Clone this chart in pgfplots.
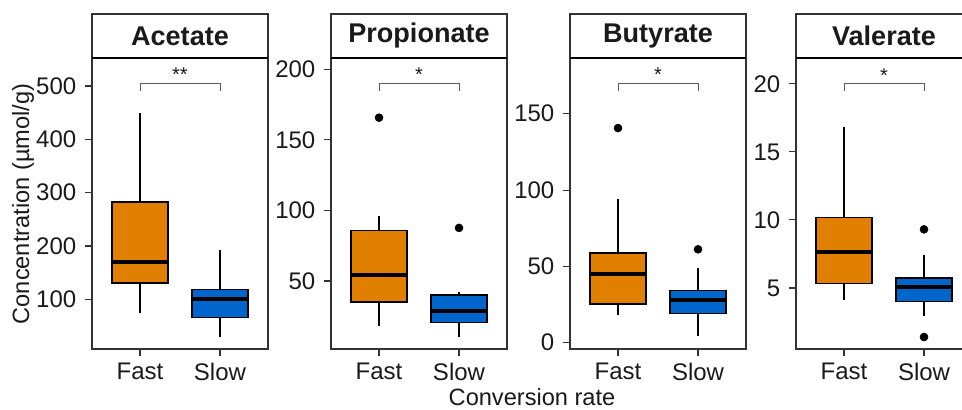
\documentclass[border=0pt]{standalone}
\usepackage{fontspec}
\setmainfont{Liberation Sans}
\usepackage{pgfplots}
\pgfplotsset{compat=1.18}
\definecolor{fastc}{HTML}{E07F00}
\definecolor{slowc}{HTML}{0066CC}
\definecolor{framec}{HTML}{333333}
\definecolor{txtc}{HTML}{1A1A1A}
\pgfplotsset{
  panel/.style={
    scale only axis, width=132pt, height=218.25pt,
    anchor=south west, clip=false,
    xmin=0.4, xmax=2.6, xtick={1,2}, xticklabels={Fast,Slow},
    axis line style={draw=framec, line width=0.8pt},
    every tick/.style={draw=framec, line width=0.8pt},
    tick align=outside, major tick length=5.25pt,
    xtick pos=left, ytick pos=left,
    minor tick num=0,
    /pgf/number format/assume math mode=true,
    ticklabel style={font=\fontsize{18}{20}\selectfont, text=txtc},
    yticklabel style={xshift=-3pt},
    xticklabel style={yshift=-1.5pt},
  },
  brk/.style={draw=framec!80, line width=0.6pt, mark=none},
  outl/.style={only marks, mark=*, mark size=3pt, draw=black, fill=black},
}
% #1 left x, #2 centre x, #3 right x, #4 lower whisker, #5 Q1, #6 median, #7 Q3, #8 upper whisker, #9 colour
\newcommand{\bx}[9]{%
  \addplot[draw=black, line width=0.9pt] coordinates {(#2,#5) (#2,#4)};
  \addplot[draw=black, line width=0.9pt] coordinates {(#2,#7) (#2,#8)};
  \addplot[draw=black, fill=#9, line width=1pt] coordinates {(#1,#5) (#3,#5) (#3,#7) (#1,#7)} -- cycle;
  \addplot[draw=black, line width=3pt] coordinates {(#1,#6) (#3,#6)};
}
\newcommand{\strip}[1]{%
  \draw[draw=framec, line width=0.8pt] (rel axis cs:0,1) rectangle (rel axis cs:1,1.1512);
  \draw[draw=black, line width=1.4pt] (rel axis cs:0,1) -- (rel axis cs:1,1);
  \node[font=\fontsize{20.3}{23}\selectfont\bfseries, text=txtc] at (rel axis cs:0.5,1.0756) {#1};
}
\newcommand{\stars}[2]{%
  \node[font=\fontsize{15}{16}\selectfont, text=txtc, anchor=south, inner sep=1pt] at (axis cs:1.5,#1) {#2};
}
\begin{document}
\begin{tikzpicture}[trim right=721.5pt]
\path (0,0) rectangle (721.5pt,306pt);

% Acetate
\begin{axis}[panel, at={(69pt,44.25pt)}, ymin=6.8, ymax=552.5, ytick={100,200,300,400,500}]
\bx{0.65}{1}{1.35}{75}{130.6}{170.6}{282.5}{450}{fastc}
\bx{1.65}{2}{2.35}{30}{65.6}{100}{118.8}{192.5}{slowc}
\addplot[brk] coordinates {(1,491) (1,505) (2,505) (2,491)};
\stars{505}{**}
\strip{Acetate}
\end{axis}

% Propionate
\begin{axis}[panel, at={(248.25pt,44.25pt)}, ymin=1.8, ymax=208, ytick={50,100,150,200}]
\bx{0.65}{1}{1.35}{18}{35}{54}{86}{96.3}{fastc}
\bx{1.65}{2}{2.35}{10.3}{20.5}{28.8}{40}{42}{slowc}
\addplot[outl] coordinates {(1,165.7) (2,87.6)};
\addplot[brk] coordinates {(1,184.8) (1,190) (2,190) (2,184.8)};
\stars{190}{*}
\strip{Propionate}
\end{axis}

% Butyrate
\begin{axis}[panel, at={(427.5pt,44.25pt)}, ymin=-4.1, ymax=186.5, ytick={0,50,100,150}]
\bx{0.65}{1}{1.35}{18}{25.4}{45}{58.7}{94}{fastc}
\bx{1.65}{2}{2.35}{4.1}{19}{28}{34}{48.8}{slowc}
\addplot[outl] coordinates {(1,140.6) (2,61.2)};
\addplot[brk] coordinates {(1,165) (1,170) (2,170) (2,165)};
\stars{170}{*}
\strip{Butyrate}
\end{axis}

% Valerate
\begin{axis}[panel, at={(597pt,44.25pt)}, ymin=0.52, ymax=21.9, ytick={5,10,15,20}]
\bx{0.65}{1}{1.35}{4.12}{5.31}{7.62}{10.16}{16.8}{fastc}
\bx{1.65}{2}{2.35}{2.94}{4.0}{5.05}{5.73}{7.4}{slowc}
\addplot[outl] coordinates {(2,9.31) (2,1.4)};
\addplot[brk] coordinates {(1,19.46) (1,20) (2,20) (2,19.46)};
\stars{20}{*}
\strip{Valerate}
\end{axis}

\node[rotate=90, font=\fontsize{17.7}{20}\selectfont, text=txtc] at (17.25pt,153pt) {Concentration (µmol/g)};
\node[font=\fontsize{17.7}{20}\selectfont, text=txtc] at (399pt,8.5pt) {Conversion rate};
\end{tikzpicture}
\end{document}
